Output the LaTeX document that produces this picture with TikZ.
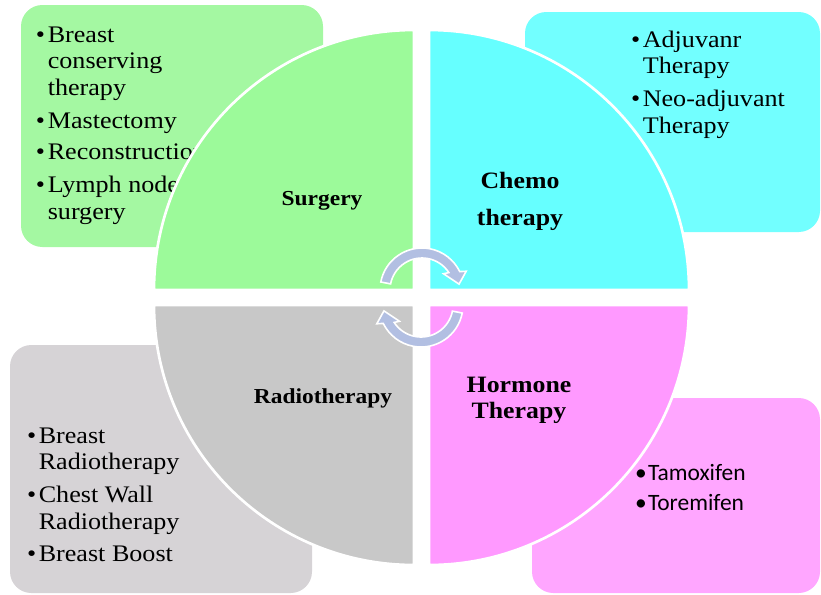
\documentclass[tikz,border=0pt]{standalone}
\usepackage{fontspec}
\setmainfont{Liberation Serif}[FakeStretch=1.1]
\newfontfamily\listsans{Carlito}
\usepackage{tikz}
\usetikzlibrary{positioning}
\definecolor{surgquad}{RGB}{156,250,154}
\definecolor{surgbox}{RGB}{164,248,162}
\definecolor{chemoquad}{RGB}{102,255,255}
\definecolor{chemobox}{RGB}{114,255,255}
\definecolor{radioquad}{RGB}{200,200,200}
\definecolor{radiobox}{RGB}{214,211,214}
\definecolor{hormquad}{RGB}{255,153,255}
\definecolor{hormbox}{RGB}{255,166,255}
\definecolor{cycleblue}{RGB}{178,191,226}

\begin{document}
\begin{tikzpicture}[x=0.75pt, y=-0.75pt, every node/.style={inner sep=0pt, outer sep=0pt},
 listbox/.style={rounded corners=16pt},
 quad/.style={draw=white, line width=2pt},
 list/.style={anchor=base west, font=\fontsize{17.8}{20}\selectfont},
 title/.style={anchor=base, font=\fontsize{16}{19}\selectfont\bfseries},
 bigtitle/.style={title, font=\fontsize{17.6}{21}\selectfont\bfseries},
 cyclearrow/.style={fill=cycleblue, draw=white, line width=1.2pt}]
\useasboundingbox (0,0) rectangle (821,594);
% boxes behind the circle
\fill[listbox, surgbox] (21,5) rectangle (323,247);
\fill[listbox, chemobox] (525,12) rectangle (820,232);
\fill[listbox, radiobox] (10,345) rectangle (312,593);
\fill[listbox, hormbox] (532,398) rectangle (820,593);
\node[list] (surglist) at (36,42) {\begin{tabular}[t]{@{}l@{\hspace{2pt}}l@{}}
 •&Breast\\&conserving\\&therapy\\[4.5pt]
 •&Mastectomy\\[3.5pt]
 •&Reconstruction\\[5pt]
 •&Lymph node\\&surgery\end{tabular}};
\node[list] (chemolist) at (631,47) {\begin{tabular}[t]{@{}l@{\hspace{2pt}}l@{}}
 •&Adjuvanr\\&Therapy\\[4.5pt]
 •&Neo-adjuvant\\&Therapy\end{tabular}};
\node[list] (radiolist) at (27,443) {\begin{tabular}[t]{@{}l@{\hspace{2pt}}l@{}}
 •&Breast\\&Radiotherapy\\[4.5pt]
 •&Chest Wall\\&Radiotherapy\\[4pt]
 •&Breast Boost\end{tabular}};
\node[list, font=\listsans\fontsize{17.6}{23}\selectfont] (hormlist) at (635,480) {\begin{tabular}[t]{@{}l@{\hspace{1pt}}l@{}}
 •&Tamoxifen\\
 •&Toremifen\end{tabular}};
% the four quadrants
\draw[quad, fill=surgquad] (414,290) -- ++(-260,0) arc[start angle=180, end angle=270, radius=260] -- cycle;
\draw[quad, fill=chemoquad] (429,290) -- ++(0,-260) arc[start angle=270, end angle=360, radius=260] -- cycle;
\draw[quad, fill=hormquad] (429,305) -- ++(260,0) arc[start angle=0, end angle=90, radius=260] -- cycle;
\draw[quad, fill=radioquad] (414,305) -- ++(0,260) arc[start angle=90, end angle=180, radius=260] -- cycle;
\node[title] (surgery) at (322,205) {Surgery};
\node[bigtitle] (chemo) at (520,188) {\begin{tabular}[t]{@{}c@{}}Chemo\\[6.75pt]therapy\end{tabular}};
\node[bigtitle] (hormone) at (519,392) {\begin{tabular}[t]{@{}c@{}}Hormone\\[-1.5pt]Therapy\end{tabular}};
\node[title] (radio) at (323,403) {Radiotherapy};
% cycle arrows
\foreach \rot in {0,180}{
 \begin{scope}[shift={(421.5,297.5)}, rotate=\rot, yscale=-1]
  \begin{scope}[shift={(0.5,7.5)}]
   \draw[cyclearrow] (169:42) arc[start angle=169, end angle=26, radius=42] -- (23:48) -- (9:37.5)
    -- (37:27) -- (33:32) arc[start angle=33, end angle=169, radius=32] -- cycle;
  \end{scope}
 \end{scope}}
\end{tikzpicture}
\end{document}
